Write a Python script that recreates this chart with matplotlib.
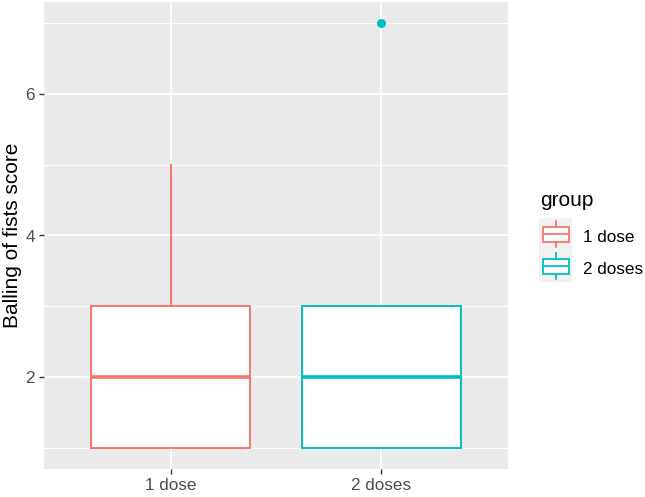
import matplotlib
matplotlib.use("Agg")
import matplotlib.pyplot as plt
from matplotlib.patches import Rectangle

plt.rcParams['font.family'] = ['Liberation Sans', 'DejaVu Sans']

groups = ["1 dose", "2 doses"]
colors = ["#F8766D", "#00BFC4"]
whislo = [1, 1]
q1 = [1, 1]
med = [2, 2]
q3 = [3, 3]
whishi = [5, 3]
fliers = [[], [7]]

stats = []
for i, g in enumerate(groups):
    stats.append(dict(label=g, whislo=whislo[i], q1=q1[i], med=med[i],
                      q3=q3[i], whishi=whishi[i], fliers=fliers[i]))

fig = plt.figure(figsize=(6.45, 4.97), dpi=100)
ax = fig.add_axes([44 / 645, 28 / 497, 464 / 645, 467 / 497])
ax.set_facecolor("#EBEBEB")

for i, s in enumerate(stats):
    c = colors[i]
    ax.bxp([s], positions=[i + 1], widths=0.75, patch_artist=True,
           showcaps=False,
           boxprops=dict(facecolor="white", edgecolor=c, linewidth=1.4),
           medianprops=dict(color=c, linewidth=2.6),
           whiskerprops=dict(color=c, linewidth=1.4),
           flierprops=dict(marker="o", markerfacecolor=c, markeredgecolor=c,
                           markersize=5.5))

ax.set_xlim(0.4, 2.6)
ax.set_ylim(0.7, 7.3)
ax.set_xticks([1, 2])
ax.set_xticklabels(groups)
ax.set_yticks([2, 4, 6])
ax.set_yticks([1, 3, 5, 7], minor=True)
ax.grid(True, which="major", color="white", linewidth=1.3)
ax.grid(True, which="minor", axis="y", color="white", linewidth=0.7)
ax.set_axisbelow(True)
for sp in ax.spines.values():
    sp.set_visible(False)
ax.tick_params(which="major", length=3.6, width=1, color="#333333",
               labelcolor="#4D4D4D", labelsize=12.3, pad=3)
ax.tick_params(which="minor", length=0)
ax.set_ylabel("Balling of fists score", fontsize=15, color="black", labelpad=2)

# legend, drawn by hand in pixel coordinates
lg = fig.add_axes([0, 0, 1, 1], facecolor="none")
lg.set_xlim(0, 645)
lg.set_ylim(497, 0)
lg.axis("off")
lg.text(540, 206, "group", fontsize=15, va="baseline", ha="left")
kx, kw, kh = 539, 33, 32
for i, g in enumerate(groups):
    c = colors[i]
    ky = 218 + i * kh
    lg.add_patch(Rectangle((kx, ky), kw, kh, facecolor="#F2F2F2",
                           edgecolor="none"))
    lg.add_patch(Rectangle((kx + 3.5, ky + kh * 0.27), kw - 7, kh * 0.48,
                           facecolor="white", edgecolor=c, linewidth=1.3))
    lg.plot([kx + 3.5, kx + kw - 3.5], [ky + kh * 0.51] * 2, color=c, lw=1.3)
    lg.plot([kx + kw / 2] * 2, [ky + kh * 0.1, ky + kh * 0.27], color=c, lw=1.3)
    lg.plot([kx + kw / 2] * 2, [ky + kh * 0.75, ky + kh * 0.92], color=c, lw=1.3)
    lg.text(583, ky + kh / 2 + 3, g, fontsize=12.3, va="center", ha="left")

fig.savefig("out.png", dpi=100)
